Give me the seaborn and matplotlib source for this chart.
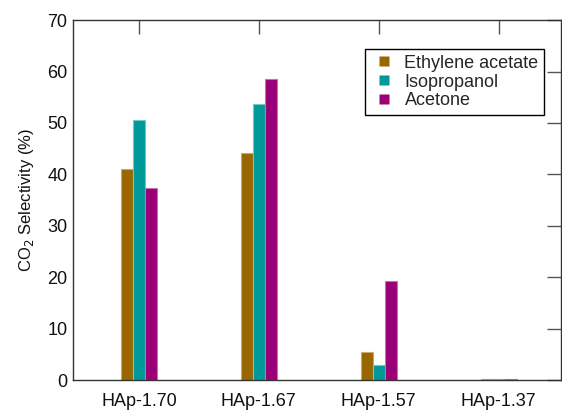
import matplotlib
matplotlib.use("Agg")
import matplotlib.pyplot as plt
from matplotlib.lines import Line2D
import seaborn as sns
import pandas as pd

# Catalyst samples and CO2 selectivity for each solvent
samples = ["HAp-1.70", "HAp-1.67", "HAp-1.57", "HAp-1.37"]
solvents = ["Ethylene acetate", "Isopropanol", "Acetone"]
ethylene_acetate = [41.0, 44.1, 5.4, 0.2]
isopropanol = [50.5, 53.6, 3.0, 0.2]
acetone = [37.4, 58.5, 19.2, 0.2]
y_ticks = [0, 10, 20, 30, 40, 50, 60, 70]

colors = ["#996600", "#009999", "#990077"]
edge_colors = ["#c8a870", "#70c8c8", "#c870b0"]

records = []
for solvent, values in zip(solvents, [ethylene_acetate, isopropanol, acetone]):
    for s, v in zip(samples, values):
        records.append({"sample": s, "solvent": solvent, "value": v})
df = pd.DataFrame(records)

sns.set_theme(style="white")
plt.rcParams["font.family"] = ["Liberation Sans", "DejaVu Sans"]

fig = plt.figure(figsize=(5.62, 4.11), dpi=100)
ax = fig.add_axes([0.130, 0.0754, 0.868, 0.8756])

sns.barplot(data=df, x="sample", y="value", hue="solvent", order=samples,
            hue_order=solvents, palette=colors, width=0.3, dodge=True,
            errorbar=None, ax=ax, linewidth=0.8, saturation=1, legend=False)

# lighter outlines on each bar
for container, ec in zip(ax.containers, edge_colors):
    for patch in container:
        patch.set_edgecolor(ec)

ax.set_xlim(-0.55, 3.52)
ax.set_ylim(0, 70)
ax.set_yticks(y_ticks)
ax.set_xlabel("")
ax.set_ylabel("CO$_2$ Selectivity (%)", fontsize=12, color="#111111", labelpad=8)

for side in ["left", "right", "top", "bottom"]:
    ax.spines[side].set_visible(True)
    ax.spines[side].set_color("#333333")
    ax.spines[side].set_linewidth(1.0)

ax.tick_params(axis="both", direction="in", top=True, right=True,
               length=10, width=1, color="#555555", labelsize=13,
               labelcolor="#111111")
ax.tick_params(axis="x", pad=9.5)
ax.tick_params(axis="y", pad=4)

# square markers for the legend keys
handles = [Line2D([], [], linestyle="none", marker="s", markersize=6.5,
                  markerfacecolor=c, markeredgecolor="none") for c in colors]
leg = ax.legend(handles, solvents, loc="upper left",
                bbox_to_anchor=(0.598, 0.919), borderaxespad=0,
                fancybox=False, frameon=True, edgecolor="black",
                fontsize=13, handlelength=1.5, handletextpad=0.4,
                labelspacing=0.1, borderpad=0.3)
leg.get_frame().set_linewidth(1.0)
leg.get_frame().set_alpha(1)

fig.savefig("out.png", dpi=100)
